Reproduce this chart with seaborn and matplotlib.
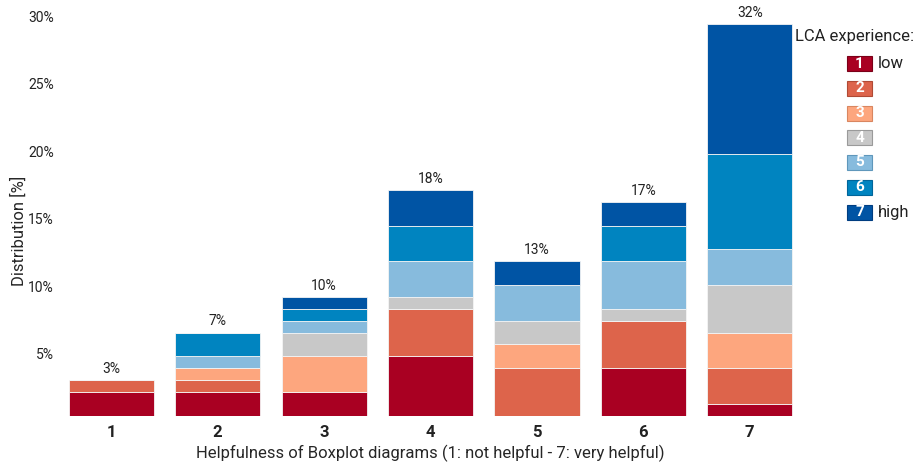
import numpy as np
import pandas as pd
import matplotlib.pyplot as plt
import seaborn as sns
from matplotlib.patches import Rectangle

# Helpfulness rating on the x axis, LCA experience level stacked in each bar
ratings = [1, 2, 3, 4, 5, 6, 7]
levels = ["1", "2", "3", "4", "5", "6", "7"]
level_notes = ["low", "", "", "", "", "", "high"]
total_labels = ["3%", "7%", "10%", "18%", "13%", "17%", "32%"]

# segment heights per experience level (%)
exp_1 = [1.76, 1.76, 1.76, 4.40, 0.00, 3.52, 0.88]
exp_2 = [0.88, 0.88, 0.00, 3.52, 3.52, 3.52, 2.64]
exp_3 = [0.00, 0.88, 2.64, 0.00, 1.76, 0.00, 2.64]
exp_4 = [0.00, 0.00, 1.76, 0.88, 1.76, 0.88, 3.52]
exp_5 = [0.00, 0.88, 0.88, 2.64, 2.64, 3.52, 2.64]
exp_6 = [0.00, 1.76, 0.88, 2.64, 0.00, 2.64, 7.04]
exp_7 = [0.00, 0.00, 0.88, 2.64, 1.76, 1.76, 9.68]

palette = ["#a90022", "#dd644b", "#fda67e", "#c8c8c8", "#87bbdd", "#0084c0", "#0054a4"]
edge_palette = ["#7a0018", "#b04a35", "#d98660", "#9a9a9a", "#5f97bb", "#00659a", "#003d80"]

sns.set_theme(style="white")
plt.rcParams['font.family'] = ['Roboto', 'DejaVu Sans']
plt.rcParams['text.color'] = '#222222'
plt.rcParams['xtick.color'] = '#222222'
plt.rcParams['ytick.color'] = '#222222'

series = [exp_1, exp_2, exp_3, exp_4, exp_5, exp_6, exp_7]
rows = []
for lvl, vals in zip(levels, series):
    for r, v in zip(ratings, vals):
        if v > 0:
            rows.append({"rating": r, "level": lvl, "share": v})
df = pd.DataFrame(rows)

fig = plt.figure(figsize=(9.21, 4.66), dpi=100)
ax = fig.add_axes([58 / 921, 50.3 / 466, 745 / 921, 411.5 / 466])

# seaborn stacks the first hue level on top, so feed the order reversed
sns.histplot(data=df, x="rating", hue="level", weights="share",
             multiple="stack", discrete=True, shrink=0.8,
             hue_order=levels[::-1], palette=palette[::-1],
             alpha=1, edgecolor="#f4f4f4", linewidth=0.6,
             legend=False, ax=ax)

totals = np.sum(series, axis=0)
for r, t, lab in zip(ratings, totals, total_labels):
    ax.annotate(lab, (r, t), xytext=(0, 3), textcoords="offset points",
                ha="center", va="bottom", fontsize=10)

ax.set_xlim(0.5, 7.5)
ax.set_ylim(0, 30.5)
ax.set_xticks(ratings)
ax.set_xticklabels([str(r) for r in ratings], fontsize=12, fontweight="bold")
ax.set_yticks([5, 10, 15, 20, 25, 30])
ax.set_yticklabels(["5%", "10%", "15%", "20%", "25%", "30%"], fontsize=10)
for lab in ax.get_yticklabels():
    lab.set_va("top")
ax.tick_params(axis="both", length=0)
ax.tick_params(axis="y", pad=3)
ax.tick_params(axis="x", pad=7)
ax.set_xlabel("Helpfulness of Boxplot diagrams (1: not helpful - 7: very helpful)",
              fontsize=12, labelpad=3)
ax.set_ylabel("Distribution [%]", fontsize=12)
ax.yaxis.set_label_coords(-0.042, 0.449)
sns.despine(ax=ax, left=True, bottom=True)

# hand-built legend to the right
fig.text(795 / 921, 1 - 36.7 / 466, "LCA experience:", fontsize=12,
         ha="left", va="center")
for i, (lvl, note) in enumerate(zip(levels, level_notes)):
    yc = 63.5 + i * 24.75
    fig.patches.append(Rectangle((847 / 921, 1 - (yc + 7.5) / 466), 25 / 921, 15 / 466,
                                 transform=fig.transFigure, facecolor=palette[i],
                                 edgecolor=edge_palette[i], linewidth=0.8))
    fig.text(859.5 / 921, 1 - yc / 466, lvl, color="white", fontsize=11,
             fontweight="bold", ha="center", va="center")
    if note:
        fig.text(878 / 921, 1 - yc / 466, note, fontsize=12, ha="left", va="center")

fig.savefig("out.png", dpi=100)
plt.close(fig)
